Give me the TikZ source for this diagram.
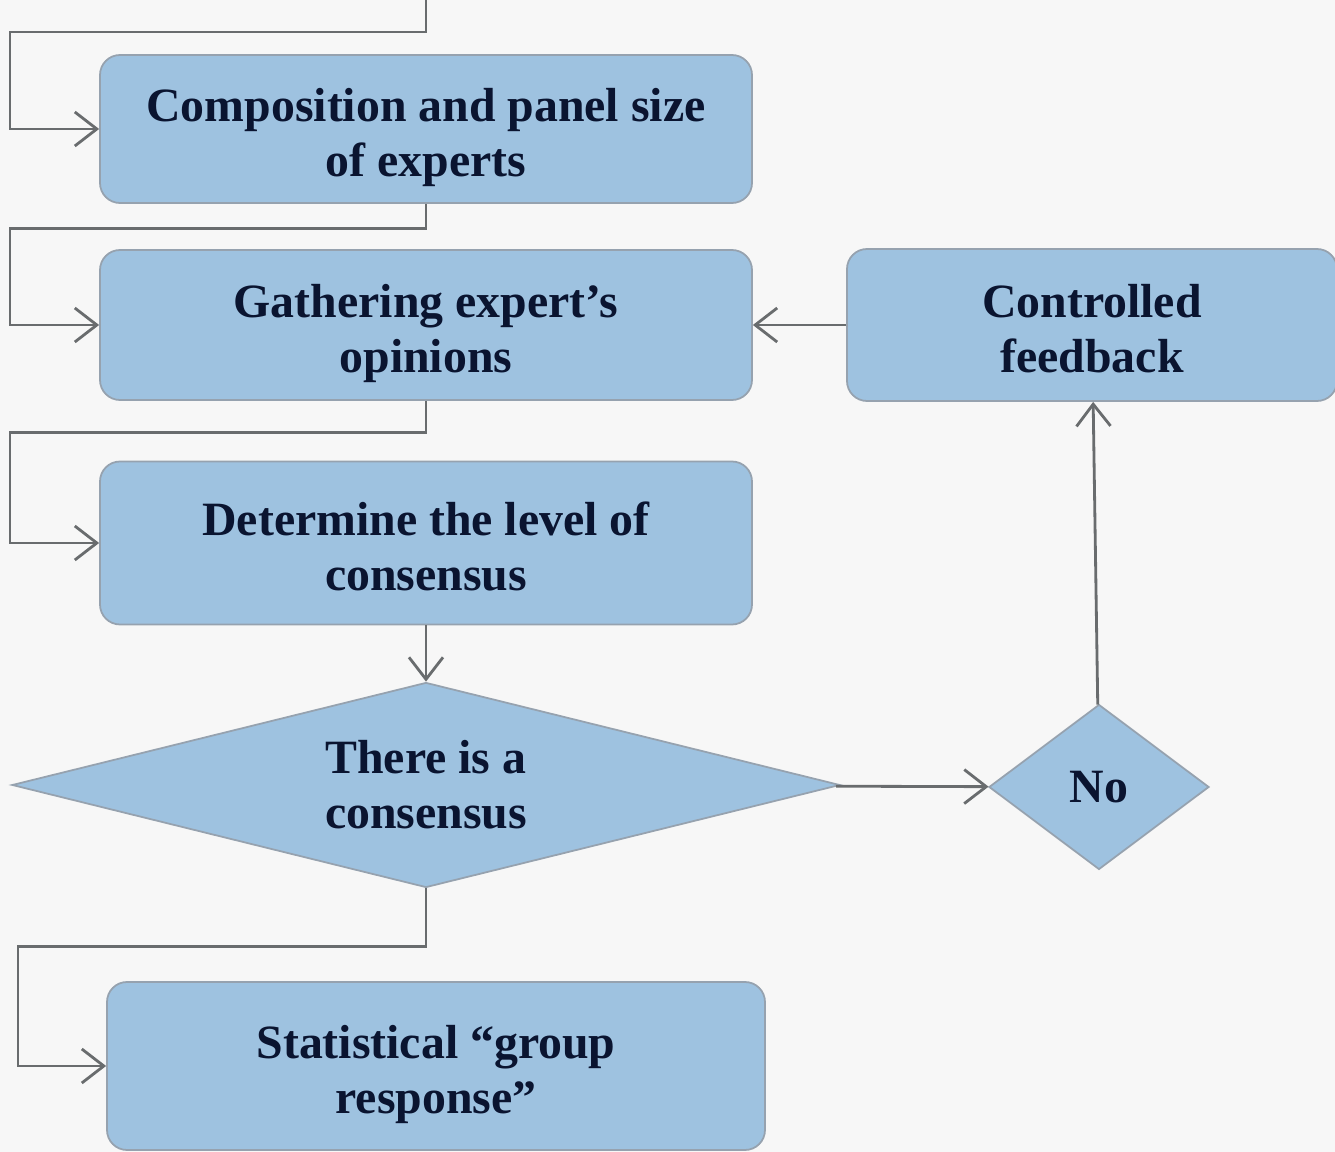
\documentclass[tikz,border=0pt]{standalone}
\usepackage{fontspec}
\setmainfont{Liberation Serif}
\usepackage{xcolor}
\usepackage{tikz}
\usetikzlibrary{arrows.meta,shapes.geometric}

\definecolor{relleno}{RGB}{158,194,224}
\definecolor{borde}{RGB}{150,162,175}
\definecolor{texto}{RGB}{10,20,48}
\definecolor{linea}{RGB}{105,108,110}
\definecolor{fondo}{RGB}{247,247,247}

\begin{document}
\begin{tikzpicture}[auto, node distance=2cm, line width=0.8pt]
\tikzstyle{caja}=[draw=borde, line width=0.5pt, fill=relleno, rounded corners=0.2cm, text=texto, align=center, font=\fontsize{13.6}{15.6}\selectfont\bfseries, text height=30.5pt, text depth=3.5pt]
\tikzstyle{rombo}=[draw=borde, line width=0.5pt, fill=relleno, text=texto, align=center, font=\fontsize{13.6}{15.6}\selectfont\bfseries, diamond, aspect=4, inner sep=0pt]
\tikzstyle{flecha}=[draw=linea, -{Straight Barb[length=2.2mm,width=3.4mm]}]
%fondo
\fill[fondo] (0,0) rectangle (13.35,-11.52);
\useasboundingbox (0,0) rectangle (13.35,-11.52);
%nodos
\node[caja, minimum width=6.52cm, minimum height=1.48cm] (a) at (4.26,-1.29) {Composition and panel size\\of experts};
\node[caja, minimum width=6.52cm, minimum height=1.50cm] (b) [below of=a, node distance=1.96cm] {Gathering expert's\\opinions};
\node[caja, minimum width=6.52cm, minimum height=1.63cm] (c) [below of=b, node distance=2.18cm] {Determine the level of\\consensus};
\node[rombo, minimum width=8.28cm, minimum height=2.05cm] (d) [below of=c, node distance=2.42cm] {There is a\\consensus};
\node[caja, minimum width=6.58cm, minimum height=1.68cm] (e) [below of=d, node distance=2.81cm, xshift=0.1cm] {Statistical ``group\\response''};
\node[caja, minimum width=4.90cm, minimum height=1.52cm] (f) [right of=b, node distance=6.66cm] {Controlled\\feedback};
\node[rombo, aspect=1.33, minimum width=2.20cm, minimum height=1.65cm] (g) [below of=f, node distance=4.62cm, xshift=0.07cm] {No};
\coordinate (ini) at (4.26,0);
%conexiones
\draw[flecha] (ini) -- ++(0,-0.32) -- ++(-4.16,0) |- (a.west);
\draw[flecha] (a.south) -- ++(0,-0.25) -- ++(-4.16,0) |- (b.west);
\draw[flecha] (b.south) -- ++(0,-0.32) -- ++(-4.16,0) |- (c.west);
\draw[flecha] (c) -- (d);
\draw[flecha] (d.south) -- ++(0,-0.58) -- ++(-4.08,0) |- (e.west);
\draw[flecha] (d) -- (g);
\draw[flecha] (g) -- (f);
\draw[flecha] (f) -- (b);
\end{tikzpicture}
\end{document}
